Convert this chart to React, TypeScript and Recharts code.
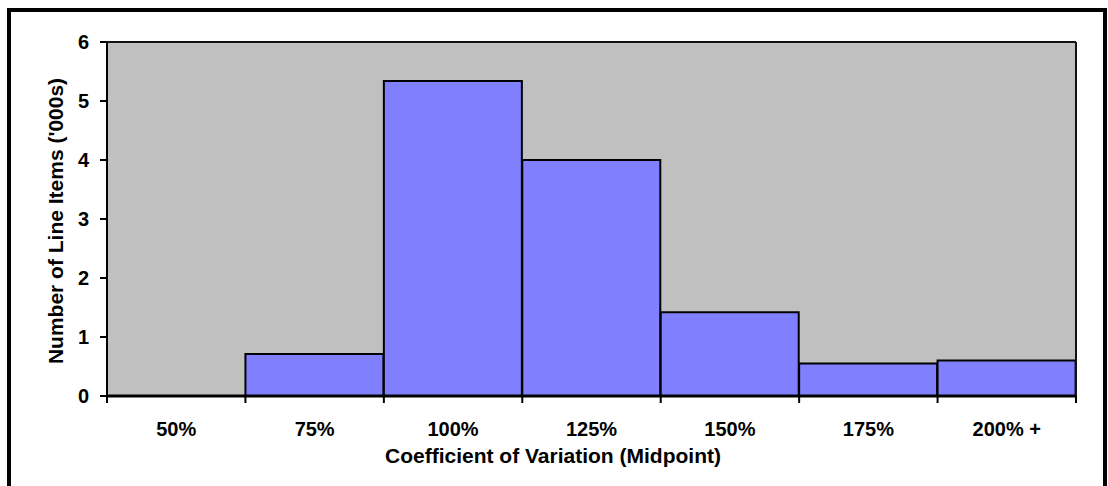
import { Bar, BarChart, CartesianGrid, Label, XAxis, YAxis } from 'recharts';

const categories = ['50%', '75%', '100%', '125%', '150%', '175%', '200% +'];
// Number of line items, thousands
const lineItems = [0, 0.71, 5.34, 4.0, 1.42, 0.55, 0.6];
const yTicks = [0, 1, 2, 3, 4, 5, 6];

const FONT = '"Liberation Sans", Arial, sans-serif';

const data = categories.map((cat, i) => ({ cat, items: lineItems[i] }));

// category label centred in the bin, tick marks on the bin boundaries
function BinTick(props: any) {
  const { x, y, payload, index } = props;
  const half = payload?.offset ?? 0;
  const last = index === categories.length - 1;
  return (
    <g>
      <line x1={x - half} x2={x - half} y1={y} y2={y + 7} stroke="#000" strokeWidth={2} />
      {last && <line x1={x + half} x2={x + half} y1={y} y2={y + 7} stroke="#000" strokeWidth={2} />}
      <text
        x={x}
        y={y + 40}
        textAnchor="middle"
        fill="#000"
        fontSize={20}
        fontWeight={700}
        fontFamily={FONT}
      >
        {payload.value}
      </text>
    </g>
  );
}

function ValueTick(props: any) {
  const { x, y, payload } = props;
  return (
    <text
      x={x}
      y={y + 7}
      textAnchor="end"
      fill="#000"
      fontSize={20}
      fontWeight={700}
      fontFamily={FONT}
    >
      {payload.value}
    </text>
  );
}

export default function App() {
  return (
    <div
      style={{
        position: 'absolute',
        left: 0,
        top: 0,
        width: 1108,
        height: 486,
        overflow: 'hidden',
        background: '#fff',
      }}
    >
      <div
        style={{
          position: 'absolute',
          left: 7,
          top: 8,
          width: 1100,
          height: 490,
          border: '4px solid #000',
          boxSizing: 'border-box',
        }}
      />
      <div style={{ position: 'absolute', left: 0, top: 0 }}>
        <BarChart
          width={1108}
          height={486}
          data={data}
          barCategoryGap={0}
          margin={{ top: 41, right: 31, left: 0, bottom: 30 }}
        >
          <CartesianGrid xAxisId="cat" fill="#C0C0C0" horizontal={false} vertical={false} />
          <XAxis
            xAxisId="cat"
            dataKey="cat"
            height={60}
            axisLine={{ stroke: '#000', strokeWidth: 3 }}
            tickLine={false}
            tickSize={0}
            tickMargin={0}
            tick={BinTick}
            interval={0}
          >
            <Label
              content={() => (
                <text
                  x={553}
                  y={463}
                  textAnchor="middle"
                  fill="#000"
                  fontSize={21}
                  fontWeight={700}
                  fontFamily={FONT}
                >
                  Coefficient of Variation (Midpoint)
                </text>
              )}
            />
          </XAxis>
          <XAxis
            xAxisId="top"
            orientation="top"
            dataKey="cat"
            height={1}
            tick={false}
            tickLine={false}
            axisLine={{ stroke: '#111', strokeWidth: 2 }}
          />
          <YAxis
            domain={[0, 6]}
            ticks={yTicks}
            width={107}
            tickSize={7}
            tickMargin={11}
            tick={ValueTick}
            tickLine={{ stroke: '#000', strokeWidth: 2 }}
            axisLine={{ stroke: '#000', strokeWidth: 2 }}
          >
            <Label
              content={() => (
                <text
                  x={63}
                  y={221}
                  transform="rotate(-90, 63, 221)"
                  textAnchor="middle"
                  fill="#000"
                  fontSize={21}
                  fontWeight={700}
                  fontFamily={FONT}
                >
                  Number of Line Items ('000s)
                </text>
              )}
            />
          </YAxis>
          <YAxis
            yAxisId="right"
            orientation="right"
            domain={[0, 6]}
            width={1}
            tick={false}
            tickLine={false}
            axisLine={{ stroke: '#111', strokeWidth: 2 }}
          />
          <Bar
            xAxisId="cat"
            dataKey="items"
            fill="#8080FF"
            stroke="#000"
            strokeWidth={2}
            isAnimationActive={false}
          />
        </BarChart>
      </div>
    </div>
  );
}
